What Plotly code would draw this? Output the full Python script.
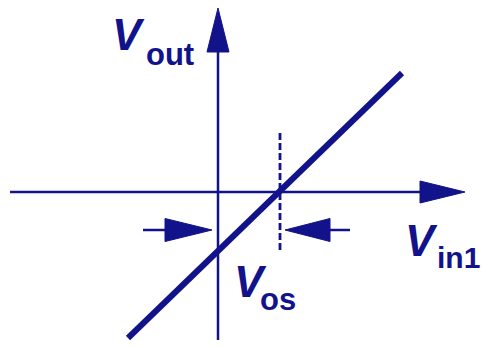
import plotly.graph_objects as go

# Input-referred offset: the transfer line crosses Vout = 0 at Vin1 = Vos
vos = 62
# Transfer characteristic end points (Vin1, Vout)
vin1_line = [-90, 184]
vout_line = [-146, 119]

INK = "#12128a"

fig = go.Figure()

def seg(xs, ys, width, dash=None):
    fig.add_trace(go.Scatter(x=xs, y=ys, mode="lines",
                             line=dict(color=INK, width=width, dash=dash),
                             hoverinfo="skip", showlegend=False))

def tri(xs, ys):
    fig.add_trace(go.Scatter(x=xs + [xs[0]], y=ys + [ys[0]], mode="lines",
                             fill="toself", fillcolor=INK,
                             line=dict(color=INK, width=1),
                             hoverinfo="skip", showlegend=False))

# Horizontal (Vin1) axis with arrow head
seg([-208, 204], [0, 0], 2.5)
tri([202, 247, 202], [11, 0, -11])

# Vertical (Vout) axis with arrow head
seg([0, 0], [-148, 142], 2.5)
tri([-11, 0, 11], [140, 184, 140])

# Transfer characteristic
seg(vin1_line, vout_line, 6)

# Dashed marker at the offset
seg([vos, vos], [59, -61], 2.8, dash="7px,3px")

# Dimension arrows pointing at 0 and Vos
ya = -38
seg([-75, -50], [ya, ya], 2.5)
tri([-53, -6, -53], [ya + 11.5, ya, ya - 11.5])
seg([110, 132], [ya, ya], 2.5)
tri([112, vos + 5, 112], [ya + 11.5, ya, ya - 11.5])

FONT = "Liberation Sans, Arial, sans-serif"

def label(main, sub, xm, ym, xs, ys, sub_size=31):
    fig.add_annotation(x=xm, y=ym, text="<b><i>" + main + "</i></b>",
                       showarrow=False, xanchor="left", yanchor="middle",
                       font=dict(family=FONT, size=44, color=INK))
    fig.add_annotation(x=xs, y=ys, text="<b>" + sub + "</b>",
                       showarrow=False, xanchor="left", yanchor="middle",
                       font=dict(family=FONT, size=sub_size, color=INK))

label("V", "out", -108, 158, -74, 138)
label("V", "in1", 185, -48, 217, -65, sub_size=30)
label("V", "os", 14, -89, 40, -107)

fig.update_layout(
    width=483, height=346,
    margin=dict(l=0, r=0, t=0, b=0),
    paper_bgcolor="white", plot_bgcolor="white",
    xaxis=dict(range=[-218, 265], visible=False, fixedrange=True),
    yaxis=dict(range=[-154, 192], visible=False, fixedrange=True),
)

fig.write_html("out.html")
